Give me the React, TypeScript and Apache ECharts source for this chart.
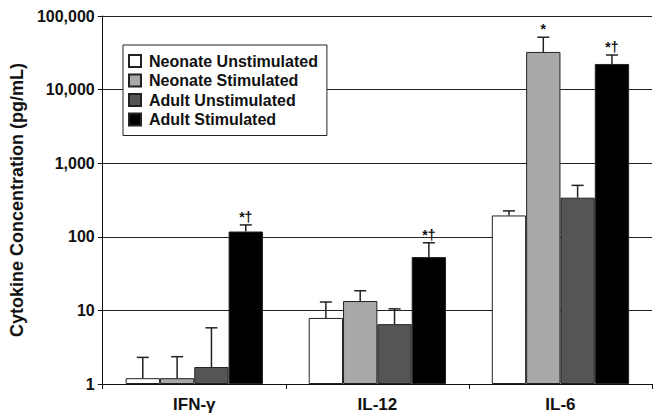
import React, { useEffect, useRef } from "react";
import * as echarts from "echarts";

const categories = ["IFN-γ", "IL-12", "IL-6"];
const seriesNames = [
  "Neonate Unstimulated",
  "Neonate Stimulated",
  "Adult Unstimulated",
  "Adult Stimulated",
];
const neonateUnstim = [1.2, 7.9, 195];
const neonateStim = [1.2, 13.4, 32500];
const adultUnstim = [1.7, 6.5, 340];
const adultStim = [118, 53, 22300];
const neonateUnstimErr = [2.3, 13, 225];
const neonateStimErr = [2.35, 18.5, 51500];
const adultUnstimErr = [5.8, 10.5, 500];
const adultStimErr = [145, 83, 29500];
const neonateStimNote = ["", "", "*"];
const adultStimNote = ["*†", "*†", "*†"];
const yTicks = [1, 10, 100, 1000, 10000, 100000];

const colors = ["#ffffff", "#a9a9a9", "#555555", "#000000"];
const FONT = "Liberation Sans, Arial, sans-serif";

export default function App() {
  const ref = useRef<HTMLDivElement>(null);
  useEffect(() => {
    document.body.style.margin = "0";
    if (!ref.current) return;
    const chart = echarts.init(ref.current, null, { renderer: "svg" });
    const values = [neonateUnstim, neonateStim, adultUnstim, adultStim];
    const errs = [neonateUnstimErr, neonateStimErr, adultUnstimErr, adultStimErr];
    const notes = [["", "", ""], neonateStimNote, ["", "", ""], adultStimNote];
    const errData: any[] = [];
    values.forEach((vals, s) => {
      vals.forEach((v, c) => {
        errData.push([c, s, v, errs[s][c], notes[s][c]]);
      });
    });
    const catGapFrac = 0.25;
    chart.setOption({
      animation: false,
      grid: { left: 94, right: 1, top: 16, bottom: 31, containLabel: false },
      legend: {
        orient: "vertical",
        left: 123,
        top: 45,
        data: seriesNames,
        icon: "rect",
        itemWidth: 12,
        itemHeight: 12,
        itemGap: 3.5,
        padding: [8, 9, 8, 5],
        backgroundColor: "#ffffff",
        borderColor: "#222",
        borderWidth: 1,
        borderRadius: 0,
        textStyle: {
          fontFamily: FONT,
          fontWeight: "bold",
          fontSize: 16,
          lineHeight: 16,
          color: "#111",
          padding: [0, 0, 0, 3],
        },
      },
      xAxis: {
        type: "category",
        data: categories,
        axisLine: { lineStyle: { color: "#111", width: 1 } },
        axisTick: { show: true, length: 5, lineStyle: { color: "#111" } },
        axisLabel: {
          fontFamily: FONT,
          fontWeight: "bold",
          fontSize: 17,
          color: "#111",
          margin: 12,
        },
      },
      yAxis: {
        type: "log",
        logBase: 10,
        min: 1,
        max: 100000,
        name: "Cytokine Concentration (pg/mL)",
        nameLocation: "middle",
        nameGap: 66,
        nameTextStyle: {
          fontFamily: FONT,
          fontWeight: "bold",
          fontSize: 18,
          color: "#111",
        },
        axisLine: { show: true, lineStyle: { color: "#111", width: 1 } },
        axisTick: { show: true, length: 5, lineStyle: { color: "#111" } },
        axisLabel: {
          fontFamily: FONT,
          fontWeight: "bold",
          fontSize: 16,
          color: "#111",
          margin: 8,
          formatter: (v: number) => {
            const r = yTicks.find((t) => Math.abs(t - v) / t < 1e-6);
            return r !== undefined ? r.toLocaleString("en-US") : "";
          },
        },
        splitLine: { show: true, lineStyle: { color: "#222", width: 1 } },
      },
      series: [
        ...seriesNames.map((name, s) => ({
          name,
          type: "bar",
          data: values[s],
          barGap: "0%",
          barCategoryGap: "25%",
          z: 3,
          itemStyle: { color: colors[s], borderColor: "#222", borderWidth: 1 },
        })),
        {
          type: "custom",
          z: 4,
          data: errData,
          encode: { x: 0, y: 3 },
          renderItem: (params: any, api: any) => {
            const c = api.value(0);
            const s = api.value(1);
            const v = api.value(2);
            const e = api.value(3);
            const note = errData[params.dataIndex][4];
            const catW = api.size([1, 0])[0];
            const bw = (catW * (1 - catGapFrac)) / 4;
            const top = api.coord([c, v]);
            const hi = api.coord([c, e]);
            const x = top[0] + (s - 1.5) * bw;
            const children: any[] = [
              {
                type: "line",
                shape: { x1: x, y1: top[1], x2: x, y2: hi[1] },
                style: { stroke: "#222", lineWidth: 1.5 },
              },
              {
                type: "line",
                shape: { x1: x - 6, y1: hi[1], x2: x + 6, y2: hi[1] },
                style: { stroke: "#222", lineWidth: 1.5 },
              },
            ];
            if (note) {
              children.push({
                type: "text",
                x: x,
                y: hi[1] - 1,
                style: {
                  text: note,
                  fontFamily: FONT,
                  fontWeight: "bold",
                  fontSize: 14,
                  fill: "#111",
                  align: "center",
                  verticalAlign: "bottom",
                },
              });
            }
            return { type: "group", children };
          },
        },
      ],
    });
    return () => chart.dispose();
  }, []);
  return <div ref={ref} style={{ width: 653, height: 415 }} />;
}
